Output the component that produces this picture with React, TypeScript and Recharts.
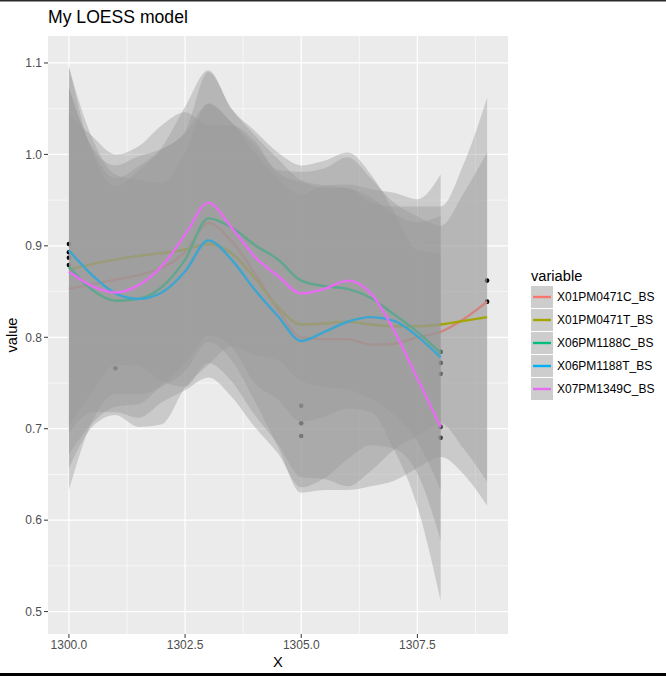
import React from 'react';
import { ComposedChart, XAxis, YAxis, CartesianGrid, Line, Area, Scatter } from 'recharts';

const xs = [1300, 1300.5, 1301, 1301.5, 1302, 1302.5, 1303, 1303.5, 1304, 1304.5, 1305, 1305.5, 1306, 1306.5, 1307, 1307.5, 1308, 1308.5, 1309];

const seriesNames = ['X01PM0471C_BS', 'X01PM0471T_BS', 'X06PM1188C_BS', 'X06PM1188T_BS', 'X07PM1349C_BS'];
const seriesColors = ['#F8766D', '#A3A500', '#00BF7D', '#00B0F6', '#E76BF3'];

// LOESS fits (per x in xs)
const fitC0471 = [0.853, 0.858, 0.863, 0.868, 0.876, 0.893, 0.925, 0.905, 0.87, 0.83, 0.8, 0.798, 0.798, 0.792, 0.793, 0.8, 0.806, 0.82, 0.839];
const fitT0471 = [0.874, 0.88, 0.885, 0.889, 0.892, 0.896, 0.902, 0.892, 0.865, 0.833, 0.814, 0.815, 0.817, 0.814, 0.812, 0.812, 0.814, 0.818, 0.822];
const fitC1188 = [0.877, 0.852, 0.84, 0.842, 0.855, 0.885, 0.93, 0.92, 0.901, 0.885, 0.862, 0.856, 0.853, 0.843, 0.825, 0.806, 0.783];
const fitT1188 = [0.895, 0.868, 0.848, 0.842, 0.849, 0.872, 0.906, 0.885, 0.852, 0.823, 0.796, 0.806, 0.817, 0.822, 0.818, 0.801, 0.778];
const fitC1349 = [0.872, 0.856, 0.849, 0.857, 0.878, 0.912, 0.947, 0.92, 0.888, 0.867, 0.848, 0.853, 0.862, 0.848, 0.807, 0.755, 0.702];

// confidence half-widths
const ciC0471 = [0.22, 0.15, 0.125, 0.13, 0.13, 0.13, 0.13, 0.13, 0.14, 0.15, 0.17, 0.165, 0.165, 0.155, 0.15, 0.143, 0.137, 0.17, 0.223];
const ciT0471 = [0.17, 0.14, 0.115, 0.12, 0.14, 0.15, 0.13, 0.14, 0.15, 0.15, 0.167, 0.17, 0.18, 0.16, 0.135, 0.12, 0.108, 0.14, 0.18];
const ciC1188 = [0.22, 0.15, 0.125, 0.14, 0.15, 0.14, 0.16, 0.13, 0.12, 0.11, 0.11, 0.11, 0.11, 0.11, 0.11, 0.12, 0.15];
const ciT1188 = [0.2, 0.15, 0.13, 0.13, 0.12, 0.13, 0.15, 0.15, 0.15, 0.15, 0.16, 0.16, 0.15, 0.14, 0.14, 0.15, 0.2];
const ciC1349 = [0.2, 0.15, 0.125, 0.13, 0.13, 0.14, 0.145, 0.13, 0.138, 0.135, 0.14, 0.14, 0.14, 0.13, 0.13, 0.14, 0.19];

const fits = [fitC0471, fitT0471, fitC1188, fitT1188, fitC1349];
const halfWidths = [ciC0471, ciT0471, ciC1188, ciT1188, ciC1349];

// raw observations
const pointX = [1300, 1300, 1300, 1300, 1301, 1305, 1305, 1305, 1308, 1308, 1308, 1308, 1308, 1309, 1309];
const pointY = [0.902, 0.893, 0.887, 0.879, 0.766, 0.725, 0.706, 0.692, 0.784, 0.772, 0.76, 0.702, 0.69, 0.862, 0.839];

const xTicks = [1300, 1302.5, 1305, 1307.5];
const xMinor = [1301.25, 1303.75, 1306.25, 1308.75];
const yTicks = [0.5, 0.6, 0.7, 0.8, 0.9, 1.0, 1.1];
const yMinor = [0.55, 0.65, 0.75, 0.85, 0.95, 1.05];

const rows = xs.map((x, i) => {
  const row: any = { x };
  fits.forEach((f, s) => {
    const v = f[i];
    const w = halfWidths[s][i];
    if (v != null && w != null) {
      row['fit' + s] = v;
      row['band' + s] = [v - w, v + w];
    }
  });
  return row;
});

const points = pointX.map((x, i) => ({ x, y: pointY[i] }));

const FONT = '"Liberation Sans", Arial, Helvetica, sans-serif';

const dotShape = (p: any) => <circle cx={p.cx} cy={p.cy} r={2.3} fill="#000000" />;

export default function App() {
  return (
    <div style={{ position: 'absolute', left: 0, top: 0, width: 666, height: 676, background: '#ffffff', fontFamily: FONT }}>
      <ComposedChart width={666} height={676} data={rows} margin={{ top: 36, right: 158, bottom: 0, left: 0 }}>
        <CartesianGrid
          fill="#EBEBEB"
          fillOpacity={1}
          stroke="#ffffff"
          strokeWidth={1.2}
          horizontalValues={yTicks}
          verticalValues={xTicks}
        />
        <CartesianGrid
          stroke="#ffffff"
          strokeWidth={0.6}
          horizontalValues={yMinor}
          verticalValues={xMinor}
        />
        <XAxis
          type="number"
          dataKey="x"
          domain={[1299.55, 1309.45]}
          ticks={xTicks}
          allowDataOverflow
          height={42}
          axisLine={false}
          tickSize={4}
          tickLine={{ stroke: '#333333' }}
          tickFormatter={(v: number) => v.toFixed(1)}
          tick={{ fill: '#4D4D4D', fontSize: 12, fontFamily: FONT }}
        />
        <YAxis
          type="number"
          domain={[0.4755, 1.1295]}
          ticks={yTicks}
          allowDataOverflow
          width={48}
          axisLine={false}
          tickSize={4}
          tickMargin={2}
          tickLine={{ stroke: '#333333' }}
          tickFormatter={(v: number) => v.toFixed(1)}
          tick={{ fill: '#4D4D4D', fontSize: 12, fontFamily: FONT }}
        />
        <Scatter data={points} dataKey="y" shape={dotShape} zIndex={90} isAnimationActive={false} />
        {fits.map((_, s) => [
          <Area
            key={'band' + s}
            dataKey={'band' + s}
            type="monotone"
            stroke="none"
            fill="#999999"
            fillOpacity={0.4}
            activeDot={false}
            dot={false}
            zIndex={100 + s * 2}
            isAnimationActive={false}
          />,
          <Line
            key={'fit' + s}
            dataKey={'fit' + s}
            type="monotone"
            stroke={seriesColors[s]}
            strokeWidth={2.4}
            dot={false}
            activeDot={false}
            zIndex={101 + s * 2}
            isAnimationActive={false}
          />,
        ])}
      </ComposedChart>
      <svg width={666} height={676} style={{ position: 'absolute', left: 0, top: 0, pointerEvents: 'none' }}>
        <rect x={0} y={0} width={666} height={1.5} fill="#2a2a2a" />
        <rect x={0} y={673} width={666} height={3} fill="#000000" />
        <text x={48} y={23} fontSize={17.6} fill="#000" fontFamily={FONT}>My LOESS model</text>
        <text x={278} y={667} fontSize={14.67} fill="#000" textAnchor="middle" fontFamily={FONT}>X</text>
        <text transform="translate(17,335) rotate(-90)" fontSize={14.67} fill="#000" textAnchor="middle" fontFamily={FONT}>value</text>
        <text x={531} y={281} fontSize={14.67} fill="#000" fontFamily={FONT}>variable</text>
        {seriesNames.map((name, i) => (
          <g key={name}>
            <rect x={531} y={286 + i * 23} width={22} height={22} fill="#CDCDCD" />
            <line x1={533} x2={551} y1={297 + i * 23} y2={297 + i * 23} stroke={seriesColors[i]} strokeWidth={2.4} />
            <text x={557} y={297 + i * 23} dominantBaseline="central" fontSize={12} fill="#000" fontFamily={FONT}>{name}</text>
          </g>
        ))}
      </svg>
    </div>
  );
}
